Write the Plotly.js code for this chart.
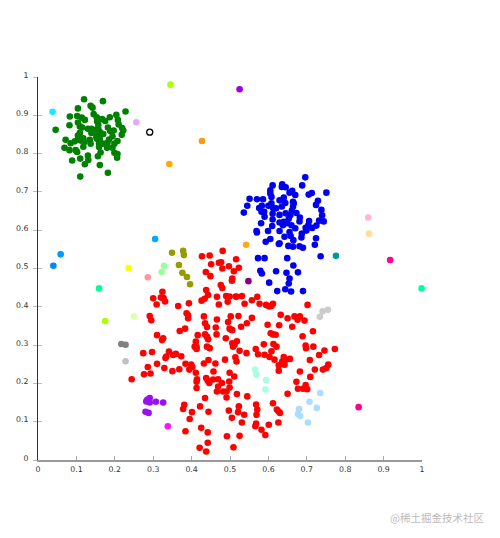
<!DOCTYPE html>
<html><head><meta charset="utf-8">
<script src="https://cdn.plot.ly/plotly-3.0.0.min.js"></script>
<style>html,body{margin:0;padding:0;background:#fff}#c{width:500px;height:538px}</style>
</head><body><div id="c"></div>
<script>
const greenX=[.120,.169,.104,.137,.142,.228,.145,.153,.204,.083,.102,.114,.122,.167,.175,.187,.208,.210,.082,.104,.109,.115,.157,.154,.046,.130,.139,.157,.150,.182,.197,.219,.222,.218,.188,.109,.139,.161,.170,.155,.154,.194,.207,.185,.072,.105,.118,.135,.085,.096,.121,.137,.159,.169,.181,.199,.069,.082,.098,.102,.118,.159,.180,.194,.163,.199,.207,.206,.130,.131,.122,.110,.089,.156,.161,.110,.182,.148,.111,.161,.152,.104];
const greenY=[.942,.937,.918,.925,.920,.910,.903,.895,.901,.897,.898,.894,.888,.890,.885,.895,.888,.876,.874,.881,.871,.868,.875,.884,.862,.865,.865,.865,.862,.868,.860,.867,.860,.849,.859,.854,.854,.856,.851,.847,.838,.845,.833,.837,.836,.838,.840,.836,.827,.832,.830,.826,.826,.826,.828,.826,.815,.809,.809,.804,.818,.817,.815,.815,.803,.802,.799,.789,.795,.783,.772,.787,.782,.793,.770,.740,.750,.856,.834,.838,.843,.847];
const blueX=[.696,.688,.611,.636,.635,.645,.605,.605,.608,.655,.662,.670,.705,.713,.751,.551,.570,.586,.545,.536,.576,.583,.589,.582,.590,.600,.608,.612,.620,.629,.640,.644,.635,.664,.666,.664,.729,.724,.738,.740,.744,.732,.725,.714,.706,.704,.697,.699,.687,.686,.670,.682,.681,.673,.661,.657,.645,.629,.611,.611,.610,.581,.569,.570,.599,.629,.638,.629,.640,.653,.649,.660,.655,.642,.658,.665,.605,.593,.629,.627,.652,.664,.681,.690,.721,.724,.573,.590,.649,.736,.665,.579,.583,.620,.647,.677,.655,.653,.602,.623,.644,.659,.690];
const blueY=[.738,.717,.717,.720,.713,.712,.704,.696,.687,.698,.703,.692,.693,.697,.698,.682,.681,.681,.664,.646,.658,.664,.648,.648,.635,.664,.670,.658,.657,.678,.685,.671,.662,.674,.670,.661,.677,.666,.653,.639,.623,.625,.612,.606,.624,.613,.606,.599,.591,.581,.605,.633,.623,.645,.651,.639,.644,.640,.643,.628,.611,.618,.598,.594,.598,.598,.613,.620,.622,.630,.618,.613,.595,.583,.585,.574,.577,.570,.566,.564,.559,.557,.558,.554,.562,.579,.527,.527,.527,.532,.508,.494,.487,.493,.489,.490,.474,.461,.463,.441,.446,.440,.441];
const redX=[.427,.447,.481,.451,.471,.477,.516,.497,.480,.523,.437,.510,.449,.506,.505,.476,.480,.438,.443,.434,.426,.466,.490,.499,.515,.517,.531,.494,.471,.538,.324,.300,.320,.327,.331,.309,.365,.393,.387,.391,.391,.432,.291,.295,.435,.440,.466,.495,.502,.522,.544,.529,.463,.499,.503,.506,.383,.369,.310,.326,.323,.416,.435,.440,.443,.465,.489,.411,.408,.413,.440,.447,.518,.506,.512,.508,
.571,.557,.577,.594,.602,.608,.612,.702,.632,.557,.650,.668,.676,.682,.694,.598,.628,.662,.716,.606,.612,.619,.689,.697,.698,.717,.746,.773,.588,.613,.621,.567,.573,.590,.608,.603,.616,.640,.656,.645,.636,.642,.627,.627,.708,.732,.721,.756,.751,.742,.682,.709,.673,.697,.690,.677,.701,
.413,.274,.297,.341,.334,.332,.352,.359,.373,.310,.286,.329,.384,.399,.402,.432,.444,.462,.487,.514,.517,.525,.543,.276,.293,.244,.350,.368,.394,.411,.457,.499,.511,.438,.414,.413,.413,.442,.446,.456,.469,.479,.469,.498,.499,.491,.482,.466,.518,.545,.435,.491,.381,.378,.422,.401,.444,.523,.497,.521,.537,.395,.505,.531,.384,.425,.442,.492,.525,.421,.442,.438,.509,
.650,.612,.568,.571,.569,.622,.626,.630,.626,.568,.566,.601,.582,.592];
const redY=[.532,.534,.546,.511,.515,.516,.524,.506,.500,.502,.491,.493,.480,.474,.468,.457,.449,.444,.431,.421,.416,.426,.428,.427,.427,.426,.428,.413,.406,.408,.439,.422,.424,.423,.414,.406,.402,.409,.383,.378,.370,.375,.376,.365,.357,.347,.367,.360,.375,.376,.357,.348,.346,.343,.340,.339,.343,.337,.326,.318,.313,.326,.328,.322,.315,.328,.318,.309,.296,.295,.296,.292,.310,.305,.301,.296,
.426,.417,.408,.405,.401,.402,.408,.405,.379,.371,.370,.375,.366,.375,.364,.353,.352,.348,.336,.331,.328,.327,.323,.299,.292,.296,.286,.290,.302,.303,.296,.290,.276,.275,.284,.269,.262,.269,.264,.262,.257,.249,.247,.233,.261,.274,.236,.249,.240,.236,.231,.217,.204,.196,.186,.186,.185,
.290,.279,.282,.283,.270,.266,.274,.277,.271,.251,.243,.240,.251,.249,.243,.252,.261,.252,.262,.268,.257,.285,.279,.224,.226,.211,.232,.237,.236,.228,.231,.228,.218,.214,.211,.204,.188,.207,.201,.210,.211,.201,.192,.205,.189,.179,.179,.179,.172,.166,.162,.163,.144,.133,.140,.125,.126,.140,.129,.125,.118,.107,.110,.098,.075,.084,.072,.062,.063,.032,.045,.022,.033,
.173,.148,.145,.132,.118,.132,.127,.123,.098,.095,.088,.092,.079,.065];
const oliveX=[.349,.378,.380,.367,.376,.388,.396];
const oliveY=[.541,.546,.535,.509,.489,.478,.459];
const violetX=[.291,.285,.282,.291,.307,.326,.280,.288];
const violetY=[.162,.158,.153,.150,.152,.150,.126,.123];
const aquaX=[.565,.569,.594,.592];
const aquaY=[.236,.223,.209,.184];
const skyX=[.735,.707,.726,.680,.677,.683,.703];
const skyY=[.175,.152,.136,.133,.120,.115,.098];
const silverX=[.741,.755,.734];
const silverY=[.388,.392,.374];
const grayX=[.217,.228];
const grayY=[.303,.301];
const soloX=[.038,.345,.525,.256,.427,.342,.305,.059,.040,.236,.328,.322,.286,.159,.175,.250,.228,.338,.542,.776,.548,.860,.862,.917,.999,.835];
const soloY=[.909,.980,.968,.882,.833,.773,.577,.537,.507,.501,.507,.491,.477,.448,.363,.375,.258,.088,.562,.533,.467,.633,.591,.522,.448,.138];
const soloColors=['#11eeff','#aaff11','#9900ee','#ddaaff','#ff9911','#ffaa00','#00aaff','#0099ff','#0088ff','#ffff00','#99ff99','#99ff99','#ff9999','#00ff99','#aaff00','#ddffaa','#c0c0c0','#ff11ff','#ffaa11','#009999','#880088','#ffb3dd','#ffdd99','#ff0099','#00ff99','#ff0088'];
const ringX=[.291], ringY=[.856];
const tickVals=[0,.1,.2,.3,.4,.5,.6,.7,.8,.9,1];
const tickText=['0','0.1','0.2','0.3','0.4','0.5','0.6','0.7','0.8','0.9','1'];
const watermark='@稀土掘金技术社区';

const dots=(x,y,color)=>({type:'scatter',mode:'markers',x,y,cliponaxis:false,hoverinfo:'skip',marker:{size:6.6,color,line:{width:0}}});
const data=[
 dots(redX,redY,'#ff0000'),
 dots(blueX,blueY,'#0000ee'),
 dots(greenX,greenY,'#008000'),
 dots(oliveX,oliveY,'#999900'),
 dots(violetX,violetY,'#9911ee'),
 dots(aquaX,aquaY,'#aaffdd'),
 dots(skyX,skyY,'#aaddff'),
 dots(silverX,silverY,'#cccccc'),
 dots(grayX,grayY,'#808080'),
 dots(soloX,soloY,soloColors),
 {type:'scatter',mode:'markers',x:ringX,y:ringY,hoverinfo:'skip',marker:{size:6,color:'#ffffff',line:{width:1.3,color:'#000000'}}},
 {type:'scatter',mode:'markers',x:[0],y:[0],yaxis:'y2',hoverinfo:'skip',marker:{size:1,opacity:0}}
];
const tickFont={family:'"DejaVu Sans",sans-serif',size:7.8,color:'#333333'};
const layout={
 width:500,height:538,showlegend:false,paper_bgcolor:'#fff',plot_bgcolor:'#fff',
 margin:{l:38.3,r:78,t:76.5,b:77.5},
 xaxis:{range:[0,1],tickmode:'array',tickvals:tickVals,ticktext:tickText,ticks:'inside',ticklen:4,tickwidth:1,tickcolor:'#aaa',
   showgrid:false,zeroline:false,showline:true,linecolor:'#999',linewidth:2,tickfont:tickFont,ticklabelstandoff:1},
 yaxis:{range:[0,1],tickmode:'array',tickvals:tickVals,ticktext:tickText,ticks:'outside',ticklen:4,tickwidth:1,tickcolor:'#bbb',
   showgrid:false,zeroline:false,showline:true,linecolor:'#333',linewidth:1,tickfont:tickFont,ticklabelshift:-2,ticklabelstandoff:3},
 yaxis2:{range:[0,1],overlaying:'y',side:'left',tickmode:'array',tickvals:tickVals,ticks:'inside',ticklen:4,tickwidth:1,tickcolor:'#bbb',
   showticklabels:false,showgrid:false,zeroline:false,showline:false},
 annotations:[{xref:'paper',yref:'paper',xanchor:'right',yanchor:'middle',showarrow:false,text:watermark,
   font:{family:'"Noto Sans CJK SC",sans-serif',size:10.5,color:'#bbbbbb'}}]
};
const pw=500-38.3-78, ph=538-76.5-77.5;
layout.annotations[0].x=(485.5-38.3)/pw;
layout.annotations[0].y=(538-77.5-517.7)/ph;
Plotly.newPlot('c',data,layout,{displayModeBar:false,staticPlot:true});
</script></body></html>
